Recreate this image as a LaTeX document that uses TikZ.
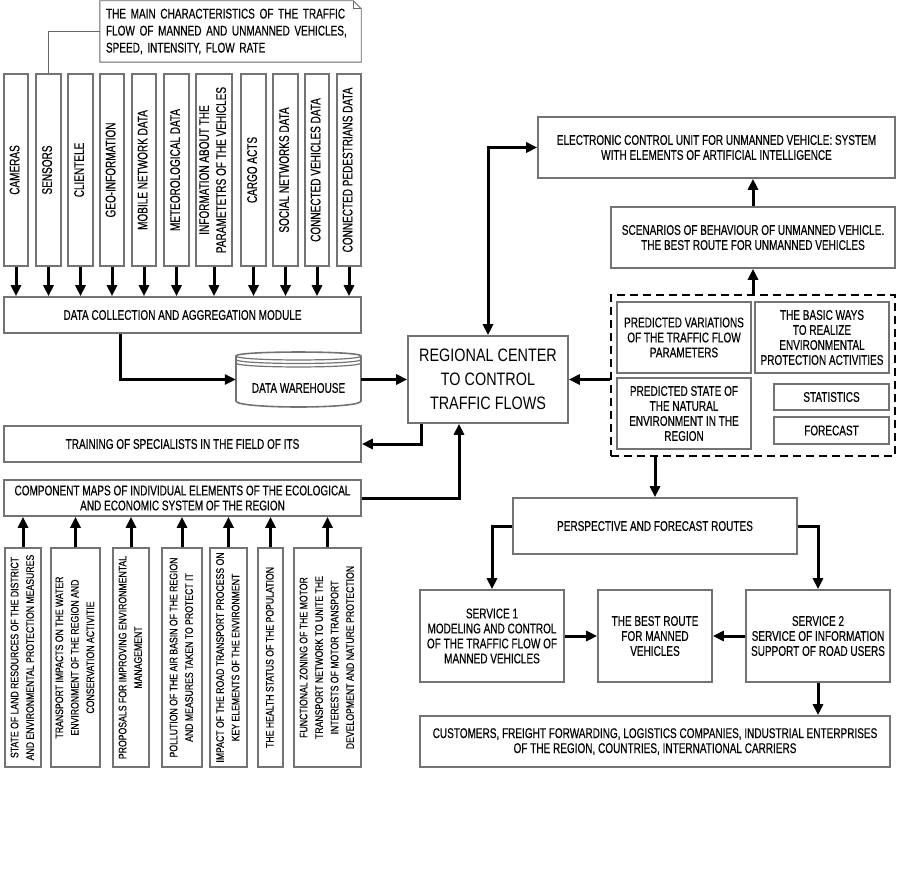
\documentclass[tikz,border=0pt]{standalone}
\usepackage{fontspec}
\setmainfont{Liberation Sans}[FakeStretch=0.715,FakeBold=0.35]
\newfontfamily\smallnarrow{Liberation Sans}[FakeStretch=0.79,FakeBold=0.3]
\newfontfamily\regfont{Liberation Sans}[FakeStretch=0.8]
\usetikzlibrary{arrows.meta,calc}
\newcommand\vtext[1]{\rotatebox{90}{\begin{tabular}{@{}c@{}}#1\end{tabular}}}
\begin{document}
\begin{tikzpicture}[x=1pt,y=-1pt,
  box/.style={draw=black!55, line width=1.6pt, fill=white, inner sep=1pt, align=center,
    font=\fontsize{14}{15}\selectfont},
  vbox/.style={box, minimum height=192pt, font=\fontsize{14}{17}\selectfont},
  bbox/.style={box, minimum height=219pt, font=\smallnarrow\fontsize{11}{15.5}\selectfont},
  regbox/.style={box, font=\regfont\fontsize{18}{24}\selectfont},
  dashbox/.style={draw=black, line width=2pt, dash pattern=on 8pt off 5pt},
  arr/.style={line width=3pt, -{Triangle[length=11pt,width=10pt]}},
  arrb/.style={line width=3pt, {Triangle[length=11pt,width=10pt]}-{Triangle[length=11pt,width=10pt]}},
  noteline/.style={draw=black!60, line width=0.9pt},
]
\useasboundingbox (0,0) rectangle (901,874);

% note
\node[text width=249pt, inner sep=6pt, minimum height=61pt, align=left,
  font=\fontsize{14}{17}\selectfont] (note) at (230.5,31.5)
  {THE MAIN CHARACTERISTICS OF THE TRAFFIC\\FLOW OF MANNED AND UNMANNED VEHICLES,\\SPEED, INTENSITY, FLOW RATE};
\draw[noteline] (note.north west) -- ([xshift=-8pt]note.north east) -- ([yshift=-8pt]note.north east)
  -- (note.south east) -- (note.south west) -- cycle;
\draw[noteline] ([xshift=-8pt]note.north east) -- ([xshift=-8pt,yshift=-8pt]note.north east) -- ([yshift=-8pt]note.north east);

% top vertical boxes
\node[vbox, minimum width=24pt] (cam) at (16,170) {\vtext{CAMERAS}};
\node[vbox, minimum width=25pt] (sen) at (48.5,170) {\vtext{SENSORS}};
\node[vbox, minimum width=25pt] (cli) at (80.5,170) {\vtext{CLIENTELE}};
\node[vbox, minimum width=24pt] (geo) at (112,170) {\vtext{GEO-INFORMATION}};
\node[vbox, minimum width=24pt] (mob) at (144,170) {\vtext{MOBILE NETWORK DATA}};
\node[vbox, minimum width=25pt] (met) at (176.5,170) {\vtext{METEOROLOGICAL DATA}};
\node[vbox, minimum width=36pt] (inf) at (214,170) {\vtext{INFORMATION ABOUT THE\\PARAMETETRS OF THE VEHICLES}};
\node[vbox, minimum width=25pt] (car) at (253.5,170) {\vtext{CARGO ACTS}};
\node[vbox, minimum width=25pt] (soc) at (285.5,170) {\vtext{SOCIAL NETWORKS DATA}};
\node[vbox, minimum width=24pt] (cvd) at (317,170) {\vtext{CONNECTED VEHICLES DATA}};
\node[vbox, minimum width=24pt] (cpd) at (349,170) {\vtext{CONNECTED PEDESTRIANS DATA}};

\draw[noteline] (note.west) -| (sen.north);

% left column
\node[box, minimum width=357pt, minimum height=36pt] (mod) at (182.5,315) {DATA COLLECTION AND AGGREGATION MODULE};
\node[minimum width=125pt, minimum height=55pt, inner sep=0pt] (wh) at (298.5,379.5) {};
\draw[draw=black!55, line width=1.6pt, fill=white]
  (236,356) .. controls (236,350.7) and (361,350.7) .. (361,356)
  -- (361,401) .. controls (361,409) and (236,409) .. (236,401) -- cycle;
\draw[draw=black!55, line width=1.2pt]
  (236,356) .. controls (236,361.3) and (361,361.3) .. (361,356)
  (236,359.5) .. controls (236,364.8) and (361,364.8) .. (361,359.5)
  (236,363) .. controls (236,368.3) and (361,368.3) .. (361,363);
\node[font=\fontsize{14}{15}\selectfont] (whtext) at (298.5,388) {DATA WAREHOUSE};
\node[box, minimum width=357pt, minimum height=36pt] (train) at (182.5,444) {TRAINING OF SPECIALISTS IN THE FIELD OF ITS};
\node[box, minimum width=357pt, minimum height=36pt] (comp) at (182.5,498) {COMPONENT MAPS OF INDIVIDUAL ELEMENTS OF THE ECOLOGICAL\\AND ECONOMIC SYSTEM OF THE REGION};

% bottom vertical boxes
\node[bbox, minimum width=36pt] (b1) at (23,657.5) {\vtext{STATE OF LAND RESOURCES OF THE DISTRICT\\AND ENVIRONMENTAL PROTECTION MEASURES}};
\node[bbox, minimum width=47pt] (b2) at (75.5,657.5) {\vtext{TRANSPORT IMPACTS ON THE WATER\\ENVIRONMENT OF THE REGION AND\\CONSERVATION ACTIVITIE}};
\node[bbox, minimum width=36pt] (b3) at (131,657.5) {\vtext{PROPOSALS FOR IMPROVING ENVIRONMENTAL\\MANAGEMENT}};
\node[bbox, minimum width=40pt] (b4) at (182,657.5) {\vtext{POLLUTION OF THE AIR BASIN OF THE REGION\\AND MEASURES TAKEN TO PROTECT IT}};
\node[bbox, minimum width=37pt] (b5) at (228.5,657.5) {\vtext{IMPACT OF THE ROAD TRANSPORT PROCESS ON\\KEY ELEMENTS OF THE ENVIRONMENT}};
\node[bbox, minimum width=25pt] (b6) at (270.5,657.5) {\vtext{THE HEALTH STATUS OF THE POPULATION}};
\node[bbox, minimum width=67pt] (b7) at (327.5,657.5) {\vtext{FUNCTIONAL ZONING OF THE MOTOR\\TRANSPORT NETWORK TO UNITE THE\\INTERESTS OF MOTOR TRANSPORT\\DEVELOPMENT AND NATURE PROTECTION}};

% centre
\node[regbox, minimum width=160pt, minimum height=87pt] (reg) at (488,379.5) {REGIONAL CENTER\\TO CONTROL\\TRAFFIC FLOWS};

% right column
\node[box, minimum width=357pt, minimum height=61pt] (ecu) at (716.5,147.5) {ELECTRONIC CONTROL UNIT FOR UNMANNED VEHICLE: SYSTEM\\WITH ELEMENTS OF ARTIFICIAL INTELLIGENCE};
\node[box, minimum width=284pt, minimum height=61pt] (scen) at (753,237.5) {SCENARIOS OF BEHAVIOUR OF UNMANNED VEHICLE.\\THE BEST ROUTE FOR UNMANNED VEHICLES};
\node[dashbox, minimum width=284pt, minimum height=161pt] (dash) at (753,375.5) {};
\node[box, minimum width=134pt, minimum height=71pt] (pv) at (684,337.5) {PREDICTED VARIATIONS\\OF THE TRAFFIC FLOW\\PARAMETERS};
\node[box, minimum width=134pt, minimum height=71pt] (bw) at (822,337.5) {THE BASIC WAYS\\TO REALIZE\\ENVIRONMENTAL\\PROTECTION ACTIVITIES};
\node[box, minimum width=134pt, minimum height=71pt] (ps) at (684,413.5) {PREDICTED STATE OF\\THE NATURAL\\ENVIRONMENT IN THE\\REGION};
\node[box, minimum width=115pt, minimum height=26pt] (stat) at (831.5,397) {STATISTICS};
\node[box, minimum width=115pt, minimum height=27pt] (fc) at (831.5,430.5) {FORECAST};

\node[box, minimum width=284pt, minimum height=56pt] (psv) at (655,526) {PERSPECTIVE AND FORECAST ROUTES};
\node[box, minimum width=144pt, minimum height=92pt] (s1) at (492,636) {SERVICE 1\\MODELING AND CONTROL\\OF THE TRAFFIC FLOW OF\\MANNED VEHICLES};
\node[box, minimum width=114pt, minimum height=92pt] (best) at (655,636) {THE BEST ROUTE\\FOR MANNED\\VEHICLES};
\node[box, minimum width=144pt, minimum height=92pt] (s2) at (818,636) {SERVICE 2\\SERVICE OF INFORMATION\\SUPPORT OF ROAD USERS};
\node[box, minimum width=470pt, minimum height=51pt] (cust) at (655,741.5) {CUSTOMERS, FREIGHT FORWARDING, LOGISTICS COMPANIES, INDUSTRIAL ENTERPRISES\\OF THE REGION, COUNTRIES, INTERNATIONAL CARRIERS};

% connectors
\foreach \n in {cam,sen,cli,geo,mob,met,inf,car,soc,cvd,cpd}
  \draw[arr] (\n.south) -- (\n.south |- mod.north);
\draw[arr] ([xshift=-62.5pt]mod.south) |- (wh.west);
\draw[arr] (wh.east) -- (reg.west);
\draw[arr] ([xshift=-67pt]reg.south) |- (train.east);
\draw[arr] (comp.east) -| ([xshift=-29pt]reg.south);
\draw[arrb] (reg.north) |- (ecu.west);
\draw[arr] (scen.north) -- (scen.north |- ecu.south);
\draw[arr] (dash.north) -- (scen.south);
\draw[arr] (dash.west |- reg.east) -- (reg.east);
\draw[arr] (dash.south -| psv.north) -- (psv.north);
\draw[arr] (psv.west) -| (s1.north);
\draw[arr] (psv.east) -| (s2.north);
\draw[arr] (s1.east) -- (best.west);
\draw[arr] (s2.west) -- (best.east);
\draw[arr] (s2.south) -- (s2.south |- cust.north);
\foreach \n in {b1,b2,b3,b4,b5,b6,b7}
  \draw[arr] (\n.north) -- (\n.north |- comp.south);
\end{tikzpicture}
\end{document}
